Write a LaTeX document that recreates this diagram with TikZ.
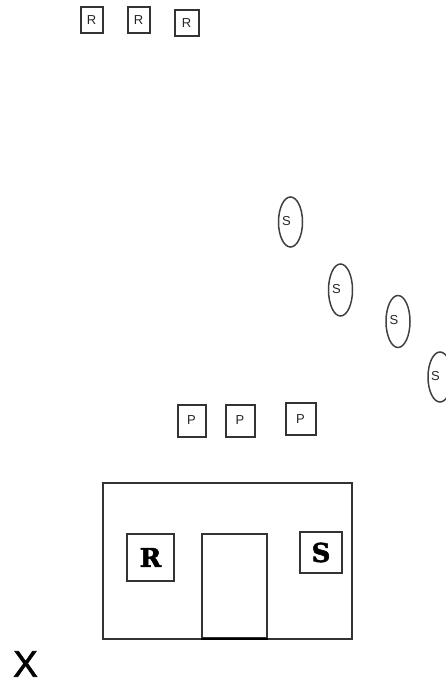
\documentclass[tikz,border=0pt]{standalone}
\usepackage{fontspec}
\setmainfont{Liberation Sans}
\newfontfamily\slabfont{DejaVu Serif}[FakeBold=2]
\newfontfamily\xfont{Liberation Sans}[FakeBold=1.6]
\usetikzlibrary{shapes.geometric}
\begin{document}
\begin{tikzpicture}[x=1pt,y=-1pt,
  lbl/.style={font=\fontsize{13}{13}\selectfont,text=black!85},
  smallbox/.style={lbl,draw=black!80,line width=2pt,minimum width=22pt,minimum height=26pt,inner sep=0pt},
  pbox/.style={lbl,draw=black!80,line width=2pt,minimum width=28pt,minimum height=32pt,inner sep=0pt},
  sell/.style={ellipse,draw=black!75,line width=1.5pt,minimum width=24pt,minimum height=50pt,inner sep=0pt},
  slab/.style={draw=black!80,line width=1.8pt,inner sep=0pt,font=\slabfont\bfseries\fontsize{26}{26}\selectfont},
  wall/.style={draw=black!80,line width=1.8pt}]
\useasboundingbox (0,0) rectangle (446,685);
% top R boxes
\node[smallbox] (r1) at (91.5,20.5) {R};
\node[smallbox] (r2) at (138.5,20.5) {R};
\node[smallbox,minimum width=24pt] (r3) at (186.5,23.5) {R};
% S ellipses
\node[sell] (s1) at (290.5,222) {};
\node[lbl] (s1t) at (286.5,221) {S};
\node[sell,minimum height=52pt] (s2) at (340.5,290) {};
\node[lbl] (s2t) at (336.5,289) {S};
\node[sell,minimum height=52pt] (s3) at (398,321.5) {};
\node[lbl] (s3t) at (394,320.5) {S};
\node[sell] (s4) at (440,377) {};
\node[lbl] (s4t) at (435.5,376) {S};
% P boxes
\node[pbox] (p1) at (191.5,420.5) {P};
\node[pbox,minimum width=29pt] (p2) at (240,420.5) {P};
\node[pbox,minimum width=30pt] (p3) at (300.5,419) {P};
% building
\node[wall,minimum width=249pt,minimum height=156pt,inner sep=0pt] (bldg) at (227.5,561) {};
\node[wall,minimum width=65pt,minimum height=104pt,inner sep=0pt] (door) at (234.5,586) {};
\draw[line width=2.6pt,black] (door.south west) -- (door.south east);
\node[slab,minimum width=47pt,minimum height=47pt] (rb) at (150.5,557.5) {R};
\node[slab,minimum width=42pt,minimum height=41pt] (sb) at (321,552.5) {S};
% X
\node[font=\xfont\fontsize{37}{37}\selectfont,inner sep=0pt] (x) at (25.5,664) {X};
\end{tikzpicture}
\end{document}
